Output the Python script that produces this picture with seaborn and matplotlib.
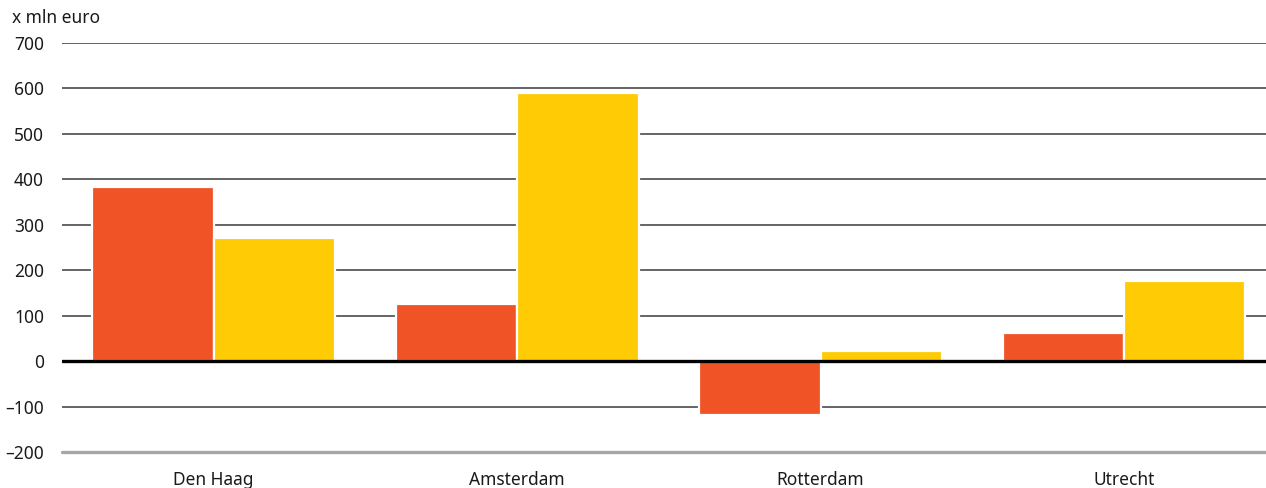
import matplotlib
matplotlib.use("Agg")
import matplotlib.pyplot as plt
import seaborn as sns
import pandas as pd

categories = ["Den Haag", "Amsterdam", "Rotterdam", "Utrecht"]
series_names = ["Reeks 1", "Reeks 2"]
values_1 = [384, 125, -119, 61]
values_2 = [270, 589, 23, 177]
colors = ["#F05426", "#FECB05"]
yticks = [-200, -100, 0, 100, 200, 300, 400, 500, 600, 700]

df = pd.DataFrame({
    "stad": categories * 2,
    "reeks": [series_names[0]] * 4 + [series_names[1]] * 4,
    "waarde": values_1 + values_2,
})

sns.set_theme(style="white")
plt.rcParams["font.family"] = ["Noto Sans", "DejaVu Sans"]

fig = plt.figure(figsize=(12.66, 4.88), dpi=100)
ax = fig.add_axes([62 / 1266, 1 - 452 / 488, 1 - 62 / 1266, (452 - 43) / 488])

# gridlines behind bars
for t in yticks:
    if t == 0 or t == -200:
        continue
    ax.axhline(t, color="#3a3a3a", lw=1.1, zorder=0)

sns.barplot(data=df, x="stad", y="waarde", hue="reeks", palette=colors,
            saturation=1, width=0.8, edgecolor="white", linewidth=1.6, ax=ax,
            legend=False, zorder=2, errorbar=None)

ax.axhline(0, color="black", lw=2.4, zorder=3)
ax.axhline(-200, color="#a6a6a6", lw=2.4, zorder=3, clip_on=False)

ax.set_ylim(-200, 700)
ax.set_xlim(-0.5, 3.468)
ax.set_yticks(yticks)
ax.set_yticklabels([str(t).replace("-", "\u2013") for t in yticks])
ax.tick_params(axis="y", length=0, pad=13, labelsize=12.5, labelcolor="#1a1a1a")
ax.tick_params(axis="x", length=0, pad=14, labelsize=12.5, labelcolor="#1a1a1a")
ax.set_xlabel("")
ax.set_ylabel("")
for s in ax.spines.values():
    s.set_visible(False)

fig.text(12 / 1266, 1 - 18 / 488, "x mln euro", fontsize=12.5, color="#1a1a1a",
         ha="left", va="center")

fig.savefig("out.png", dpi=100)
